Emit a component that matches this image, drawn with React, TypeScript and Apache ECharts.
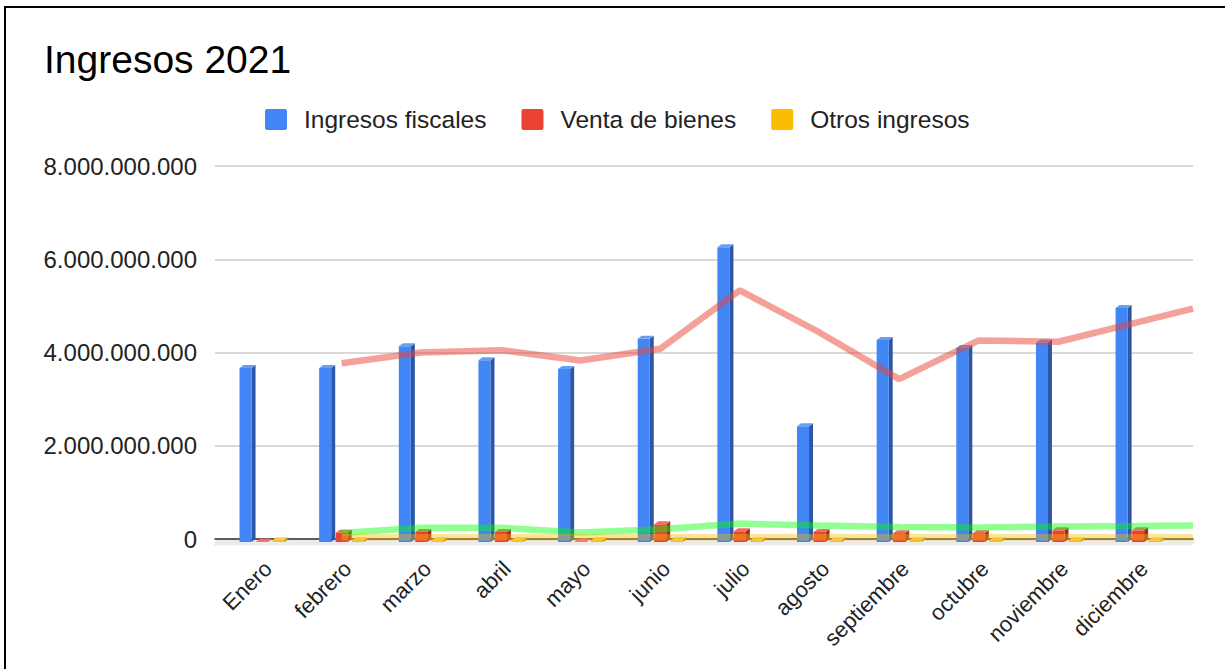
import React, { useEffect, useRef } from "react";
import * as echarts from "echarts";

const categories = ["Enero", "febrero", "marzo", "abril", "mayo", "junio", "julio", "agosto", "septiembre", "octubre", "noviembre", "diciembre"];
const seriesNames = ["Ingresos fiscales", "Venta de bienes", "Otros ingresos"];
const ingresosFiscales = [3.73e9, 3.73e9, 4.2e9, 3.9e9, 3.71e9, 4.36e9, 6.32e9, 2.48e9, 4.33e9, 4.16e9, 4.28e9, 5.02e9];
const ventaBienes = [0.005e9, 0.2e9, 0.215e9, 0.215e9, 0.005e9, 0.38e9, 0.23e9, 0.215e9, 0.19e9, 0.19e9, 0.25e9, 0.25e9];
const otrosIngresos = [0.04e9, 0.035e9, 0.035e9, 0.04e9, 0.04e9, 0.035e9, 0.035e9, 0.035e9, 0.04e9, 0.04e9, 0.04e9, 0.035e9];
// trend lines (moving average as drawn), one value per month; last value is the line's end at the plot edge
const tendenciaFiscales = [null, 3.77e9, 4.0e9, 4.05e9, 3.83e9, 4.08e9, 5.33e9, 4.43e9, 3.43e9, 4.26e9, 4.23e9, 4.65e9];
const tendenciaFiscalesFin = 4.94e9;
const tendenciaBienes = [null, 0.13e9, 0.24e9, 0.24e9, 0.14e9, 0.21e9, 0.33e9, 0.29e9, 0.26e9, 0.245e9, 0.27e9, 0.28e9];
const tendenciaBienesFin = 0.29e9;
const tendenciaOtros = [null, 0.035e9, 0.035e9, 0.037e9, 0.04e9, 0.037e9, 0.035e9, 0.035e9, 0.037e9, 0.04e9, 0.04e9, 0.037e9];
const tendenciaOtrosFin = 0.036e9;
const yTicks = { min: 0, max: 8e9, interval: 2e9 };

const FONT = "'Liberation Sans', Arial, sans-serif";
const DX = 4;
const DY = 3;
const X_MIN = -0.59;
const X_MAX = 11.69;
const LEGEND_ICON = "path://M2,0H20A2,2 0 0 1 22,2V19A2,2 0 0 1 20,21H2A2,2 0 0 1 0,19V2A2,2 0 0 1 2,0Z";

const barColors = [
  { front: "#4285F4", side: "#2b57a6", top: "#6a9ef6" },
  { front: "#EA4335", side: "#a4291e", top: "#f06b60" },
  { front: "#FBBC04", side: "#b68800", top: "#fccd48" },
];

function fmt(v: number) {
  return Math.round(v).toString().replace(/\B(?=(\d{3})+(?!\d))/g, ".");
}

function make3D(k: number) {
  const c = barColors[k];
  return (params: any, api: any) => {
    const i = api.value(0);
    const v = api.value(1);
    const base = api.coord([i, 0]);
    const top = api.coord([i, v]);
    const band = api.size([1, 0])[0];
    const slot = band * 0.207;
    const fw = slot * 0.73;
    const cx = base[0] + (k - 1) * slot;
    const x = cx - fw / 2;
    const y0 = base[1];
    const y1 = Math.min(top[1], y0 - 0.3);
    return {
      type: "group",
      children: [
        {
          type: "polygon",
          shape: { points: [[x + fw, y1], [x + fw + DX, y1 - DY], [x + fw + DX, y0 - DY], [x + fw, y0]] },
          style: { fill: c.side },
        },
        { type: "rect", shape: { x, y: y1, width: fw, height: y0 - y1 }, style: { fill: c.front } },
        {
          type: "polygon",
          shape: { points: [[x, y1], [x + DX, y1 - DY], [x + fw + DX, y1 - DY], [x + fw, y1]] },
          style: { fill: c.top },
        },
      ],
    };
  };
}

function trend(vals: (number | null)[], fin: number) {
  const pts: any[] = [];
  vals.forEach((v, i) => {
    if (v !== null) pts.push([i, v]);
  });
  pts.push([X_MAX, fin]);
  return pts;
}

export default function App() {
  const ref = useRef<HTMLDivElement>(null);
  useEffect(() => {
    if (!ref.current) return;
    const chart = echarts.init(ref.current, null, { renderer: "svg" });
    const barData = [ingresosFiscales, ventaBienes, otrosIngresos];
    const option: any = {
      animation: false,
      backgroundColor: "#ffffff",
      textStyle: { fontFamily: FONT },
      title: {
        text: "Ingresos 2021",
        left: 44,
        top: 40,
        padding: 0,
        textStyle: { fontFamily: FONT, fontSize: 39, fontWeight: "normal", color: "#000" },
      },
      legend: {
        data: seriesNames.map((n, k) => ({ name: n, itemStyle: { color: barColors[k].front } })),
        left: 265,
        top: 107,
        padding: 0,
        icon: LEGEND_ICON,
        itemWidth: 22,
        itemHeight: 21,
        itemGap: 35,
        textStyle: { fontFamily: FONT, fontSize: 24.5, color: "#222", padding: [0, 0, 0, 12] },
      },
      grid: [
        { left: 215, width: 978, top: 166, height: 373, containLabel: false },
        { left: 222.2, width: 955.7, top: 169, height: 373, containLabel: false },
        { left: 228.2, width: 955.7, top: 169, height: 373, containLabel: false },
      ],
      xAxis: [
        {
          gridIndex: 0,
          type: "value",
          min: X_MIN,
          max: X_MAX,
          axisLine: { show: true, lineStyle: { color: "#333", width: 1.5 } },
          axisTick: { show: false },
          axisLabel: { show: false },
          splitLine: { show: false },
        },
        {
          gridIndex: 1,
          type: "category",
          data: categories,
          axisLine: { show: false },
          axisTick: { show: false },
          axisLabel: { show: false },
        },
        {
          gridIndex: 2,
          type: "category",
          data: categories,
          axisLine: { show: false },
          axisTick: { show: false },
          axisLabel: {
            show: true,
            rotate: 45,
            margin: 23,
            interval: 0,
            fontFamily: FONT,
            fontSize: 22,
            color: "#222",
          },
        },
      ],
      yAxis: [
        {
          gridIndex: 0,
          type: "value",
          min: yTicks.min,
          max: yTicks.max,
          interval: yTicks.interval,
          axisLine: { show: false },
          axisTick: { show: false },
          axisLabel: { fontFamily: FONT, fontSize: 24, color: "#222", margin: 18, formatter: fmt },
          splitLine: { lineStyle: { color: "#cccccc", width: 1.5 } },
        },
        {
          gridIndex: 1,
          type: "value",
          min: yTicks.min,
          max: yTicks.max,
          show: false,
          splitLine: { show: false },
        },
        { gridIndex: 2, type: "value", min: 0, max: 1, show: false, splitLine: { show: false } },
      ],
      graphic: [
        {
          type: "polygon",
          z: -1,
          shape: { points: [[213, 545.5], [217, 540], [1196, 540], [1192, 545.5]] },
          style: { fill: "#ebebeb" },
        },
        { type: "line", shape: { x1: 4, y1: 7, x2: 1225, y2: 7 }, style: { stroke: "#000", lineWidth: 2 } },
        { type: "line", shape: { x1: 5, y1: 6, x2: 5, y2: 669 }, style: { stroke: "#000", lineWidth: 2 } },
      ],
      series: [
        ...barData.map((vals, k) => ({
          name: seriesNames[k],
          type: "custom",
          xAxisIndex: 1,
          yAxisIndex: 1,
          clip: false,
          z: 3,
          itemStyle: { color: barColors[k].front },
          renderItem: make3D(k),
          data: vals.map((v, i) => [i, v]),
        })),
        {
          name: "Tendencia ingresos fiscales",
          type: "line",
          xAxisIndex: 0,
          yAxisIndex: 0,
          z: 5,
          symbol: "none",
          lineStyle: { color: "#EA4335", opacity: 0.5, width: 6.5 },
          data: trend(tendenciaFiscales, tendenciaFiscalesFin),
        },
        {
          name: "Tendencia venta de bienes",
          type: "line",
          xAxisIndex: 0,
          yAxisIndex: 0,
          z: 5,
          symbol: "none",
          lineStyle: { color: "#00ff00", opacity: 0.43, width: 6.5 },
          data: trend(tendenciaBienes, tendenciaBienesFin),
        },
        {
          name: "Tendencia otros ingresos",
          type: "line",
          xAxisIndex: 0,
          yAxisIndex: 0,
          z: 5,
          symbol: "none",
          lineStyle: { color: "#FBBC04", opacity: 0.4, width: 6.5 },
          data: trend(tendenciaOtros, tendenciaOtrosFin),
        },
      ],
    };
    chart.setOption(option);
    return () => chart.dispose();
  }, []);
  return (
    <div
      ref={ref}
      style={{ position: "fixed", left: 0, top: 0, width: 1225, height: 669, background: "#fff" }}
    />
  );
}
